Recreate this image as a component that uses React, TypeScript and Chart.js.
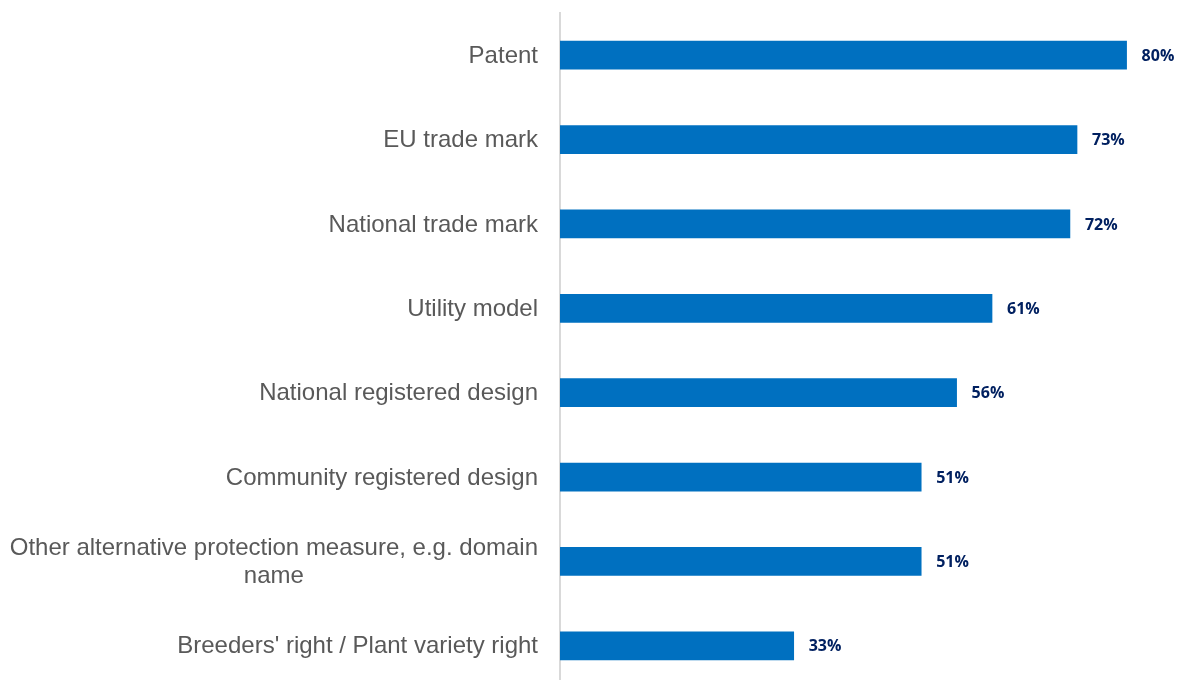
import React, { useEffect, useRef } from "react";
import { Chart, registerables } from "chart.js";

Chart.register(...registerables);

const categories: (string | string[])[] = [
  "Patent",
  "EU trade mark",
  "National trade mark",
  "Utility model",
  "National registered design",
  "Community registered design",
  ["Other alternative protection measure, e.g. domain", "name"],
  "Breeders' right / Plant variety right",
];

const values: number[] = [80, 73, 72, 61, 56, 51, 51, 33];

const valueLabels: string[] = values.map((v) => `${v}%`);

const BAR_COLOR = "#0070C0";
const LABEL_COLOR = "#595959";
const VALUE_COLOR = "#002060";

const categoryLabelPlugin = {
  id: "categoryLabels",
  afterDraw(chart: any) {
    const ctx = chart.ctx;
    const yScale = chart.scales.y;
    const rightEdge = chart.chartArea.left - 22;
    const lineHeight = 28;
    ctx.save();
    ctx.font = "24px 'Liberation Sans', Arial, sans-serif";
    ctx.fillStyle = LABEL_COLOR;
    ctx.textBaseline = "middle";
    ctx.textAlign = "center";
    categories.forEach((cat, i) => {
      const lines = Array.isArray(cat) ? cat : [cat];
      const cy = yScale.getPixelForValue(i) + 1;
      const widths = lines.map((l) => ctx.measureText(l).width);
      const maxW = Math.max(...widths);
      const centerX = rightEdge - maxW / 2;
      const startY = cy - ((lines.length - 1) * lineHeight) / 2;
      lines.forEach((l, j) => {
        ctx.fillText(l, centerX, startY + j * lineHeight);
      });
    });
    ctx.restore();
  },
};

const valueLabelPlugin = {
  id: "valueLabels",
  afterDatasetsDraw(chart: any) {
    const ctx = chart.ctx;
    const meta = chart.getDatasetMeta(0);
    ctx.save();
    ctx.font = "bold 16px 'Open Sans', sans-serif";
    ctx.fillStyle = VALUE_COLOR;
    ctx.textBaseline = "middle";
    ctx.textAlign = "left";
    meta.data.forEach((bar: any, i: number) => {
      ctx.fillText(valueLabels[i], bar.x + 15, bar.y + 1);
    });
    ctx.restore();
  },
};

export default function App() {
  const canvasRef = useRef<HTMLCanvasElement | null>(null);

  useEffect(() => {
    if (!canvasRef.current) return;
    const chart = new Chart(canvasRef.current, {
      type: "bar",
      data: {
        labels: categories.map((c) => (Array.isArray(c) ? c.join(" ") : c)),
        datasets: [
          {
            data: values,
            backgroundColor: BAR_COLOR,
            borderWidth: 0,
            barThickness: 28,
          },
        ],
      },
      options: {
        indexAxis: "y",
        responsive: false,
        animation: false,
        layout: { padding: { top: 13, right: 17, bottom: 0, left: 0 } },
        plugins: {
          legend: { display: false },
          tooltip: { enabled: false },
        },
        scales: {
          x: {
            display: false,
            min: 0,
            max: 85,
          },
          y: {
            type: "category",
            grid: { display: false, drawTicks: false },
            border: { display: true, color: "#D9D9D9", width: 2 },
            ticks: { display: false },
            afterFit: (scale: any) => {
              scale.width = 560;
            },
          },
        },
      },
      plugins: [categoryLabelPlugin, valueLabelPlugin],
    });
    return () => chart.destroy();
  }, []);

  return (
    <div style={{ position: "fixed", top: 0, left: 0, width: 1179, height: 688, background: "#fff" }}>
      <canvas ref={canvasRef} width={1179} height={688} style={{ display: "block" }} />
    </div>
  );
}
